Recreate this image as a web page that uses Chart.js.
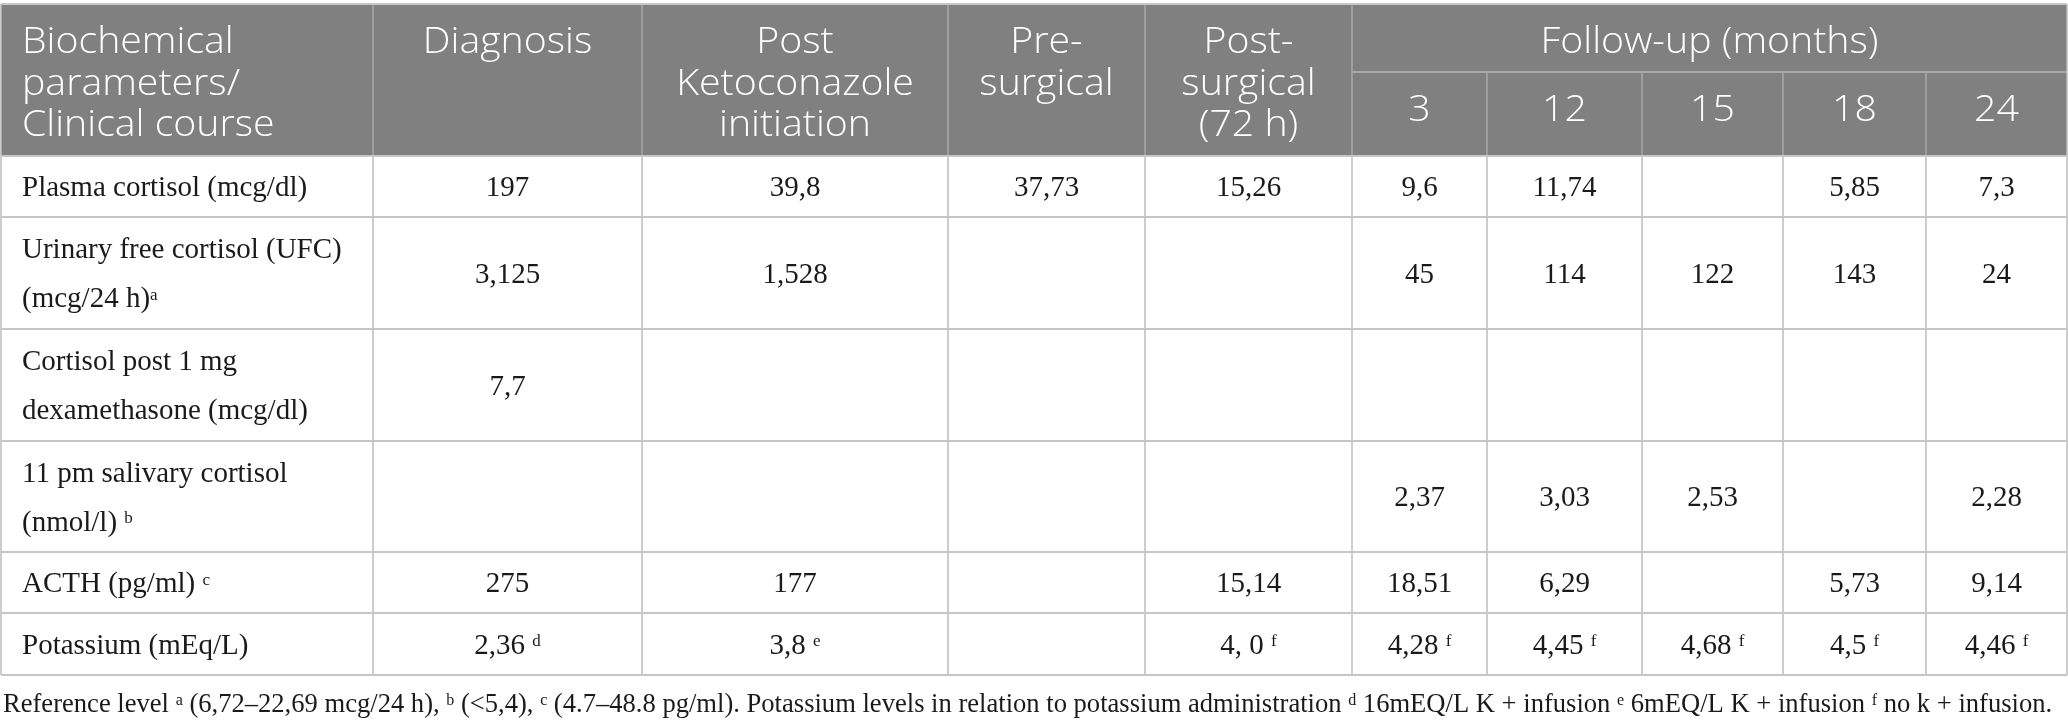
<!DOCTYPE html>
<html>
<head>
<meta charset="utf-8">
<script src="https://cdn.jsdelivr.net/npm/chart.js@4.4.1/dist/chart.umd.min.js"></script>
<style>
html,body{margin:0;padding:0;background:#ffffff;overflow:hidden}
#wrap{width:2068px;height:727px;position:relative}
canvas{display:block}
</style>
</head>
<body>
<div id="wrap"><canvas id="c" width="2068" height="727"></canvas></div>
<script>
// ================= DATA =================
const firstHeader = "Biochemical|parameters/|Clinical course";
const stageHeaders = ["Diagnosis", "Post|Ketoconazole|initiation", "Pre-|surgical", "Post-|surgical|(72 h)"];
const followUpHeader = "Follow-up (months)";
const followUpMonths = ["3", "12", "15", "18", "24"];

const parameterLabels = [
  "Plasma cortisol (mcg/dl)",
  "Urinary free cortisol (UFC)|(mcg/24 h){a}",
  "Cortisol post 1 mg|dexamethasone (mcg/dl)",
  "11 pm salivary cortisol|(nmol/l) {b}",
  "ACTH (pg/ml) {c}",
  "Potassium (mEq/L)"
];

// columns: Diagnosis, Post Ketoconazole, Pre-surgical, Post-surgical, 3, 12, 15, 18, 24 months
const plasmaCortisol      = ["197", "39,8", "37,73", "15,26", "9,6", "11,74", "", "5,85", "7,3"];
const urinaryFreeCortisol = ["3,125", "1,528", "", "", "45", "114", "122", "143", "24"];
const cortisolPostDexa    = ["7,7", "", "", "", "", "", "", "", ""];
const salivaryCortisol    = ["", "", "", "", "2,37", "3,03", "2,53", "", "2,28"];
const acth                = ["275", "177", "", "15,14", "18,51", "6,29", "", "5,73", "9,14"];
const potassium           = ["2,36 {d}", "3,8 {e}", "", "4, 0 {f}", "4,28 {f}", "4,45 {f}", "4,68 {f}", "4,5 {f}", "4,46 {f}"];

const footnote = "Reference level {a} (6,72\u201322,69 mcg/24 h), {b} (<5,4), {c} (4.7\u201348.8 pg/ml). Potassium levels in relation to potassium administration {d} 16mEQ/L K + infusion {e} 6mEQ/L K + infusion {f} no k + infusion.";

// ================= LAYOUT (scale units) =================
const colEdges = [1, 373, 642, 948, 1145, 1352, 1487, 1642, 1783, 1926, 2067];
const rowEdges = [4, 156, 217, 329, 441, 552, 613, 675];
const subHeaderLine = 72;
const footBaseline = 712;
const labelX = 22;
const lineGap = 49;

const rows = [plasmaCortisol, urinaryFreeCortisol, cortisolPostDexa, salivaryCortisol, acth, potassium];

const SERIF = '"Liberation Serif", "Times New Roman", serif';
const SANS = '"Open Sans", "Noto Sans", sans-serif';
const HEADER_STRETCH = 1.09;

// points for value cells and label cells
const valuePoints = [];
rows.forEach((vals, r) => {
  const yc = (rowEdges[r + 1] + rowEdges[r + 2]) / 2;
  vals.forEach((v, c) => {
    if (v !== "") valuePoints.push({x: (colEdges[c + 1] + colEdges[c + 2]) / 2, y: yc, t: v});
  });
});
const labelPoints = parameterLabels.map((lab, r) => ({x: labelX, y: (rowEdges[r + 1] + rowEdges[r + 2]) / 2, t: lab}));

function segsOf(str) {
  return str.split(/(\{[^}]*\})/).filter(s => s.length).map(p =>
    p.charAt(0) === '{' ? {t: p.slice(1, -1), sup: true} : {t: p, sup: false});
}

function drawRich(ctx, str, x, yBase, align, size, family, weight, color, sx) {
  sx = sx || 1;
  const supSize = Math.round(size * 0.6);
  const segs = segsOf(str);
  let total = 0;
  segs.forEach(s => {
    ctx.font = `${weight} ${s.sup ? supSize : size}px ${family}`;
    s.w = ctx.measureText(s.t).width * sx;
    total += s.w;
  });
  let cx = align === 'center' ? x - total / 2 : (align === 'right' ? x - total : x);
  ctx.textAlign = 'left';
  ctx.textBaseline = 'alphabetic';
  ctx.fillStyle = color;
  segs.forEach(s => {
    ctx.font = `${weight} ${s.sup ? supSize : size}px ${family}`;
    ctx.save();
    ctx.translate(cx, s.sup ? yBase - size * 0.27 : yBase);
    ctx.scale(sx, 1);
    ctx.fillText(s.t, 0, 0);
    ctx.restore();
    cx += s.w;
  });
  return total;
}

function drawMultiline(ctx, text, x, yCenter, align, size, family, weight, color) {
  const lines = text.split('|');
  const n = lines.length;
  lines.forEach((ln, i) => {
    const base = yCenter + (i - (n - 1) / 2) * lineGap + size * 0.34;
    drawRich(ctx, ln, x, base, align, size, family, weight, color);
  });
}

const tablePlugin = {
  id: 'tablePlugin',
  beforeDatasetsDraw(chart) {
    const {ctx} = chart;
    const xs = chart.scales.x, ys = chart.scales.y;
    const X = v => xs.getPixelForValue(v);
    const Y = v => ys.getPixelForValue(v);
    const last = colEdges.length - 1;
    ctx.save();
    // header background
    ctx.fillStyle = '#7f807f';
    ctx.fillRect(X(colEdges[0]), Y(rowEdges[0]), X(colEdges[last]) - X(colEdges[0]), Y(rowEdges[1]) - Y(rowEdges[0]));

    // header separators
    ctx.strokeStyle = '#a8a8a8';
    ctx.lineWidth = 1.5;
    for (let i = 1; i < last; i++) {
      const top = i > 5 ? subHeaderLine : rowEdges[0];
      ctx.beginPath(); ctx.moveTo(X(colEdges[i]), Y(top)); ctx.lineTo(X(colEdges[i]), Y(rowEdges[1])); ctx.stroke();
    }
    ctx.lineWidth = 2;
    ctx.beginPath(); ctx.moveTo(X(colEdges[5]), Y(subHeaderLine)); ctx.lineTo(X(colEdges[last]), Y(subHeaderLine)); ctx.stroke();

    // top border
    ctx.strokeStyle = '#c8c8c8';
    ctx.lineWidth = 2;
    ctx.beginPath(); ctx.moveTo(X(colEdges[0]), Y(rowEdges[0])); ctx.lineTo(X(colEdges[last]), Y(rowEdges[0])); ctx.stroke();

    // body vertical lines
    ctx.strokeStyle = '#bdbdbd';
    ctx.lineWidth = 1.5;
    colEdges.forEach((cx, i) => {
      const top = (i === 0 || i === last) ? rowEdges[0] : rowEdges[1];
      ctx.beginPath(); ctx.moveTo(X(cx), Y(top)); ctx.lineTo(X(cx), Y(rowEdges[rowEdges.length - 1])); ctx.stroke();
    });
    // body horizontal lines
    ctx.strokeStyle = '#c6c6c6';
    ctx.lineWidth = 2;
    for (let j = 1; j < rowEdges.length; j++) {
      ctx.beginPath(); ctx.moveTo(X(colEdges[0]), Y(rowEdges[j])); ctx.lineTo(X(colEdges[last]), Y(rowEdges[j])); ctx.stroke();
    }

    // header texts
    const hs = 36, hBase0 = 53, hGap = 41.5;
    const hdrLines = (txt, x, align) => txt.split('|').forEach((ln, i) =>
      drawRich(ctx, ln, X(x), Y(hBase0 + i * hGap), align, hs, SANS, 300, '#ffffff', HEADER_STRETCH));
    hdrLines(firstHeader, labelX, 'left');
    stageHeaders.forEach((h, i) => hdrLines(h, (colEdges[i + 1] + colEdges[i + 2]) / 2, 'center'));
    drawRich(ctx, followUpHeader, X((colEdges[5] + colEdges[last]) / 2), Y(hBase0), 'center', hs, SANS, 300, '#ffffff', HEADER_STRETCH);
    followUpMonths.forEach((m, i) =>
      drawRich(ctx, m, X((colEdges[5 + i] + colEdges[6 + i]) / 2), Y((subHeaderLine + rowEdges[1]) / 2 + 7), 'center', hs, SANS, 300, '#ffffff', HEADER_STRETCH));

    // footnote (fit to table width)
    let fs = 28;
    let w = 0;
    segsOf(footnote).forEach(s => {
      ctx.font = `${s.sup ? Math.round(fs * 0.6) : fs}px ${SERIF}`;
      w += ctx.measureText(s.t).width;
    });
    fs = fs * (X(2053) - X(3)) / w;
    drawRich(ctx, footnote, X(3), Y(footBaseline), 'left', fs, SERIF, 400, '#1a1a1a');
    ctx.restore();
  },
  afterDatasetsDraw(chart) {
    const {ctx} = chart;
    ctx.save();
    chart.data.datasets.forEach((ds, di) => {
      const meta = chart.getDatasetMeta(di);
      meta.data.forEach((el, k) => {
        drawMultiline(ctx, ds.data[k].t, el.x, el.y, ds.align, 29, SERIF, 400, '#1a1a1a');
      });
    });
    ctx.restore();
  }
};

new Chart(document.getElementById('c'), {
  type: 'scatter',
  data: {
    datasets: [
      {label: 'values', data: valuePoints, align: 'center', pointRadius: 0, pointHoverRadius: 0},
      {label: 'labels', data: labelPoints, align: 'left', pointRadius: 0, pointHoverRadius: 0}
    ]
  },
  options: {
    responsive: false,
    devicePixelRatio: 1,
    animation: false,
    events: [],
    layout: {padding: 0},
    plugins: {legend: {display: false}, tooltip: {enabled: false}},
    scales: {
      x: {type: 'linear', min: 0, max: 2068, display: false},
      y: {type: 'linear', min: 0, max: 727, reverse: true, display: false}
    }
  },
  plugins: [tablePlugin]
});
</script>
</body>
</html>
